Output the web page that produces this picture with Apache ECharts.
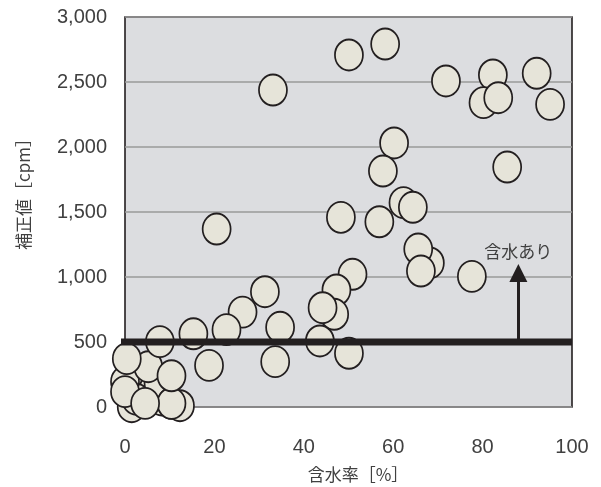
<!DOCTYPE html>
<html>
<head>
<meta charset="utf-8">
<script src="https://cdn.jsdelivr.net/npm/echarts@6/dist/echarts.min.js"></script>
<style>
html,body{margin:0;padding:0;background:#fff;}
#c{width:601px;height:487px;}
</style>
</head>
<body>
<div id="c"></div>
<script>
// 含水率 [%]
var moistureX = [
  50.1, 58.2, 33.1, 71.8, 82.3, 80.2, 83.5, 92.1, 95.1, 85.5,
  60.2, 57.7, 62.3, 64.4, 48.3, 56.9, 20.5, 68.2, 65.6, 66.2,
  77.6, 50.9, 47.3, 46.8, 44.2, 43.6, 50.1, 31.3, 26.3, 22.7,
  15.3, 34.7, 33.6, 18.8,
  3.0, 6.3, 8.2, 1.5, -0.5, 2.5, 7.5, 0.0, 0.0, 5.2,
  10.4, 12.3, 10.4, -0.4, 0.4, 4.5, 7.8, 10.4
];
// 補正値 [cpm]
var countY = [
  2708, 2792, 2438, 2508, 2554, 2341, 2379, 2567, 2328, 1846,
  2031, 1815, 1572, 1536, 1459, 1425, 1369, 1108, 1215, 1046,
  1005, 1021, 900, 713, 764, 508, 413, 887, 730, 595,
  563, 613, 349, 320,
  156, 131, 54, 2, 40, 60, 185, 195, 118, 310,
  28, 10, 28, 105, 372, 28, 503, 240
];
var thresholdValue = [500];
var thresholdRange = [-1.6, 100];
var arrowX = [88];
var arrowTop = [1030];
var arrowLabel = ['含水あり'];
var xTicks = [0, 20, 40, 60, 80, 100];
var yTicks = [0, 500, 1000, 1500, 2000, 2500, 3000];
var xName = '含水率［%］';
var yName = '補正値［cpm］';

var points = moistureX.map(function (x, i) { return [x, countY[i]]; });
var thresholdLine = thresholdRange.map(function (x) { return [x, thresholdValue[0]]; });

var chart = echarts.init(document.getElementById('c'), null, {renderer: 'canvas'});
var labelColor = '#404040';
var latin = 'Liberation Sans, Arial, sans-serif';
var cjk = 'Noto Sans CJK JP, sans-serif';

chart.setOption({
  animation: false,
  backgroundColor: '#ffffff',
  grid: {
    left: 125, right: 29, top: 17, bottom: 80,
    show: true,
    backgroundColor: '#dcdde0',
    borderColor: '#231f20',
    borderWidth: 1.6
  },
  xAxis: {
    type: 'value',
    min: xTicks[0], max: xTicks[xTicks.length - 1],
    interval: xTicks[1] - xTicks[0],
    axisLine: {show: false},
    axisTick: {show: false},
    splitLine: {show: false},
    axisLabel: {color: labelColor, fontSize: 20, fontFamily: latin, margin: 30}
  },
  yAxis: {
    type: 'value',
    min: yTicks[0], max: yTicks[yTicks.length - 1],
    interval: yTicks[1] - yTicks[0],
    axisLine: {show: false},
    axisTick: {show: false},
    splitLine: {show: true, lineStyle: {color: '#9a9a9a', width: 1.5}},
    axisLabel: {
      color: labelColor, fontSize: 20, fontFamily: latin, margin: 18,
      formatter: function (v) { return v.toLocaleString('en-US'); }
    }
  },
  graphic: [{
    type: 'text',
    x: 24, y: 190,
    rotation: Math.PI / 2,
    style: {
      text: yName,
      fill: labelColor,
      font: '17px "Noto Sans CJK JP", sans-serif',
      align: 'center',
      verticalAlign: 'middle'
    }
  }, {
    type: 'text',
    x: 358, y: 475,
    style: {
      text: xName,
      fill: labelColor,
      font: '17px "Noto Sans CJK JP", sans-serif',
      align: 'center',
      verticalAlign: 'middle'
    }
  }],
  series: [{
    type: 'scatter',
    data: points,
    symbol: 'circle',
    symbolSize: [28, 31],
    itemStyle: {color: '#e6e4d9', borderColor: '#231f20', borderWidth: 1.8, opacity: 1},
    emphasis: {disabled: true},
    z: 2,
    markLine: {
      silent: true,
      animation: false,
      precision: 4,
      data: [
        [
          {coord: [arrowX[0], thresholdValue[0]], symbol: 'none', lineStyle: {color: '#231f20', width: 3, type: 'solid'}},
          {coord: [arrowX[0], arrowTop[0]], symbol: 'triangle', symbolSize: [18, 18],
           label: {show: true, position: 'end', formatter: arrowLabel[0], color: labelColor,
                   fontSize: 17, fontFamily: cjk, distance: 13}}
        ]
      ],
      label: {show: false}
    }
  }, {
    type: 'line',
    data: thresholdLine,
    clip: false,
    showSymbol: false,
    symbol: 'none',
    silent: true,
    z: 5,
    lineStyle: {color: '#231f20', width: 7},
    emphasis: {disabled: true}
  }]
});
</script>
</body>
</html>
